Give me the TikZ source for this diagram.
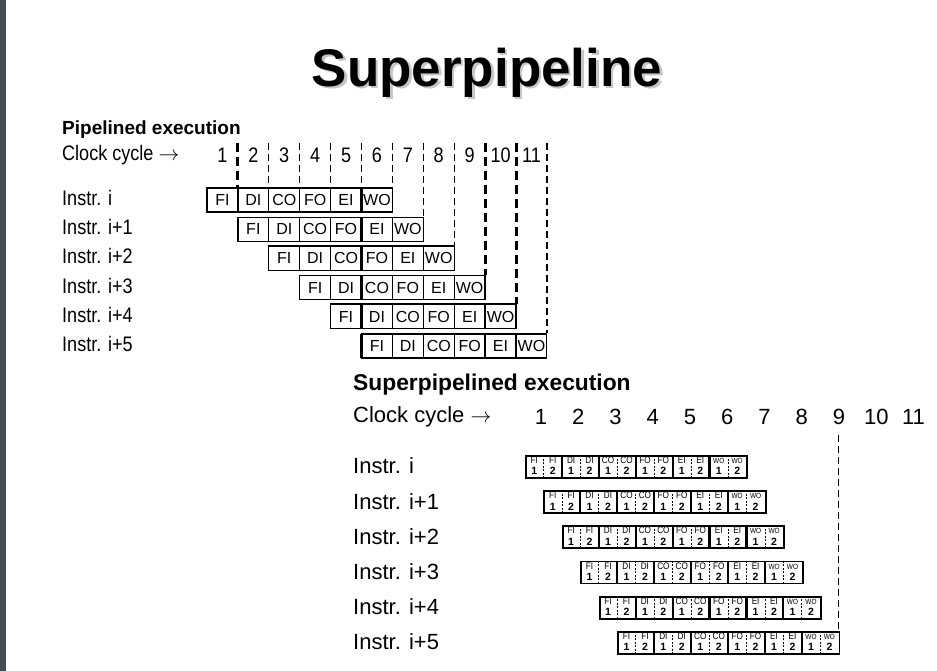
\documentclass[tikz,border=0pt]{standalone}
\usepackage{fontspec}
\setmainfont{Liberation Sans}
\newfontfamily\narrowfont{Liberation Sans}[FakeStretch=0.86]
\usetikzlibrary{positioning}

\definecolor{barcol}{RGB}{72,77,83}
\tikzset{
  lbl/.style={anchor=west, inner sep=0pt, font=\narrowfont\fontsize{21}{24}\selectfont},
  biglbl/.style={anchor=west, inner sep=0pt, font=\fontsize{22}{25}\selectfont},
  cell/.style={draw, line width=1.1pt, minimum width=30.9pt, minimum height=24pt,
    inner sep=0pt, font=\fontsize{16}{17}\selectfont},
  stagetxt/.style={anchor=base, inner sep=0pt, font=\narrowfont\fontsize{9.5}{10}\selectfont},
  digittxt/.style={anchor=base, inner sep=0pt, font=\fontsize{10.5}{11}\selectfont\bfseries},
  grid/.style={dash pattern=on 7pt off 4pt, line width=1.2pt},
  gridthick/.style={dash pattern=on 9pt off 5pt, line width=3pt},
}

\begin{document}
\begin{tikzpicture}[x=1pt, y=-1pt]
        \useasboundingbox (0,0) rectangle (937,671);
        \fill[barcol] (0,0) rectangle (6,671);

        % Title
        \node[anchor=base, text=gray!45, font=\fontsize{53}{60}\selectfont\bfseries] at (489.5,89) {Superpipeline};
        \node[anchor=base, font=\fontsize{53}{60}\selectfont\bfseries] (title) at (487,87) {Superpipeline};

        % Pipelined execution
        \node[lbl, font=\fontsize{19}{22}\selectfont\bfseries] (ptitle) at (62,130) {Pipelined execution};
        \node[lbl] (pclock) at (62,155) {Clock cycle $\rightarrow$};
        \foreach \n in {1,...,11}
          \node[font=\narrowfont\fontsize{21}{24}\selectfont] (pn\n) at ({207+30.9*(\n-0.5)},155) {\n};

        \foreach \r/\t in {0/Instr. i, 1/Instr. i+1, 2/Instr. i+2, 3/Instr. i+3, 4/Instr. i+4, 5/Instr. i+5} {
          \node[lbl] (pi\r) at (62,{198+29.2*\r}) {\t};
          \foreach \s [count=\c from 0] in {FI,DI,CO,FO,EI,WO}
            \node[cell] (p\r\c) at ({207+30.9*(\r+\c+0.5)},{200+29.2*\r}) {\s};
          \foreach \j in {1,5,9,10} {
            \pgfmathtruncatemacro\ok{(\j>=\r) && (\j<=\r+6)}
            \ifnum\ok=1
              \draw[line width=2.6pt] ({207+30.9*\j},{188+29.2*\r}) -- ++(0,24);
            \fi
          }
        }
        \draw[line width=2.4pt] (p20.north west) -- (p25.north east);
        \draw[line width=2.4pt] (p40.north west) -- (p45.north east);

        % Clock lines
        \foreach \j in {1,...,11} {
          \pgfmathtruncatemacro\r{max(0,\j-6)}
          \coordinate (pt\j) at ({207+30.9*\j},143);
          \ifnum\j=1 \def\gs{gridthick}\else\ifnum\j>8 \ifnum\j<11 \def\gs{gridthick}\else\def\gs{grid}\fi\else\def\gs{grid}\fi\fi
          \draw[\gs] (pt\j) -- (pt\j |- p\r0.north);
        }

        % Superpipelined execution
        \node[biglbl, font=\fontsize{22.8}{25}\selectfont\bfseries] (stitle) at (353,385) {Superpipelined execution};
        \node[biglbl] (sclock) at (353,417) {Clock cycle $\rightarrow$};
        \foreach \n in {1,...,11}
          \node[font=\fontsize{22}{25}\selectfont] (sn\n) at ({541+37.25*(\n-1)},417) {\n};

        \foreach \r/\t in {0/Instr. i, 1/Instr. i+1, 2/Instr. i+2, 3/Instr. i+3, 4/Instr. i+4, 5/Instr. i+5} {
          \node[biglbl] (si\r) at (353,{466+35.2*\r}) {\t};
          \node[draw, line width=1.8pt, minimum width=221.4pt, minimum height=22pt, inner sep=0pt,
            anchor=north west] (s\r) at ({525+18.45*\r},{455+35.2*\r}) {};
          \foreach \s [count=\c from 0] in {FI,DI,CO,FO,EI,WO} {
            \foreach \h in {1,2} {
              \node[stagetxt] (s\r\c\h) at ({525+18.45*\r+36.9*\c+18.45*(\h-0.5)},{463.4+35.2*\r})
                {\ifnum\c=5 \fontsize{7.5}{10}\selectfont\fi\s};
              \node[digittxt] (d\r\c\h) at ({525+18.45*\r+36.9*\c+18.45*(\h-0.5)},{474.8+35.2*\r}) {\h};
            }
            \draw[line width=0.7pt, dash pattern=on 2pt off 1.5pt]
              ({525+18.45*\r+36.9*\c+18.45},{455+35.2*\r}) -- ++(0,22);
            \ifnum\c>0
              \draw[line width=2.2pt] ({525+18.45*\r+36.9*\c},{455+35.2*\r}) -- ++(0,22);
            \fi
          }
        }
        \coordinate (st9) at (838.6,435);
        \draw[grid] (st9) -- (st9 |- s5.north);
    \end{tikzpicture}
\end{document}
